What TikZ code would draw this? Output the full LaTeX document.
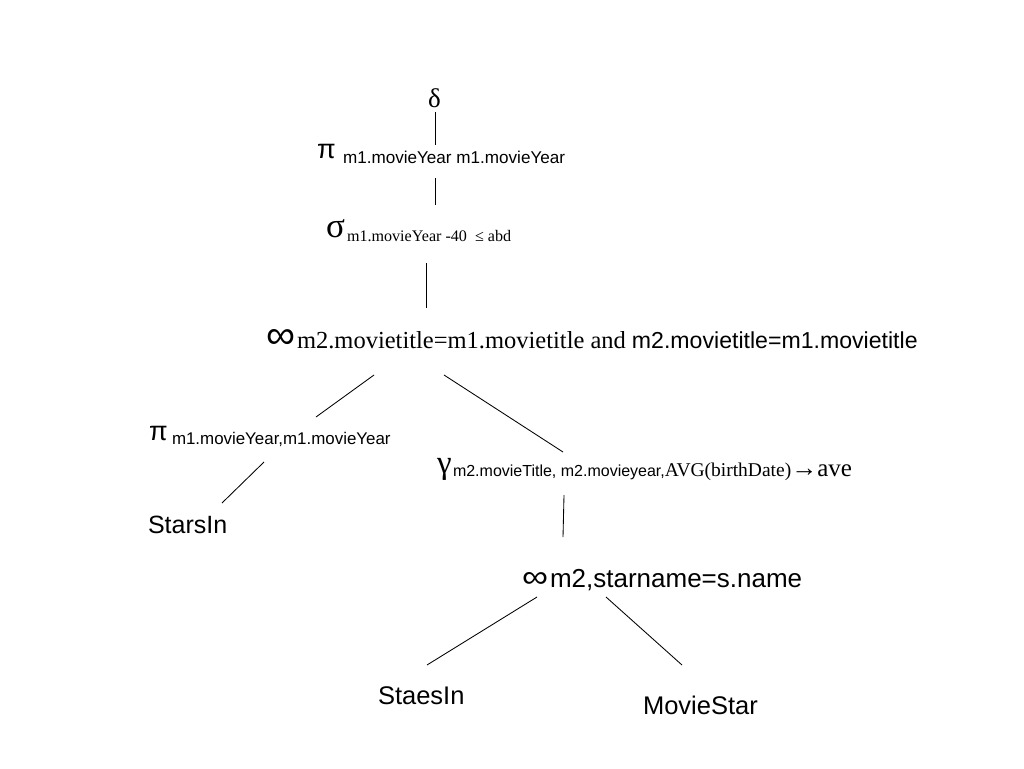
\documentclass[tikz,border=0pt]{standalone}
\usepackage{fontspec}
\usepackage{graphicx}
\setmainfont{Liberation Serif}
\newfontfamily\arialf{Liberation Sans}
\newcommand\fsz[1]{\fontsize{#1}{#1}\selectfont}
\tikzset{
  lbl/.style={anchor=base west, inner sep=0pt, outer sep=0pt, text=black},
  edge/.style={draw=black, line width=0.85pt}
}
\begin{document}
\begin{tikzpicture}[x=1pt,y=-1pt]
\useasboundingbox[fill=white] (0,0) rectangle (1024,768);

% labels
\node[lbl] (delta) at (428,107) {\fsz{27}δ};
\node[lbl] (pitop) at (317,158) {\makebox[26pt][l]{\arialf\fsz{27}π}\raisebox{-5pt}{\arialf\fsz{17.1}m1.movieYear m1.movieYear}};
\node[lbl] (sigma) at (326,237) {\makebox[21pt][l]{\fsz{35}σ}\raisebox{-4pt}{\fsz{16.1}m1.movieYear -40\ \ ≤ abd}};
\node[lbl] (jointop) at (266,348) {\makebox[31pt][l]{\resizebox{29pt}{19pt}{\arialf ∞}}{\fsz{24.5}m2.movietitle=m1.movietitle and }{\arialf\fsz{23.1}m2.movietitle=m1.movietitle}};
\node[lbl] (pileft) at (149,440) {\makebox[23pt][l]{\arialf\fsz{27}π}\raisebox{-4pt}{\arialf\fsz{16.9}m1.movieYear,m1.movieYear}};
\node[lbl] (starsin) at (148,533) {\arialf\fsz{25}StarsIn};
\node[lbl] (gamma) at (437,476) {\makebox[16pt][l]{\raisebox{3pt}{\fsz{33}γ}}{\arialf\fsz{16}m2.movieTitle, m2.movieyear,}{\fsz{19.5}AVG(birthDate)}{\fsz{26}→}{\fsz{25}ave}};
\node[lbl] (joinlow) at (522,587) {\makebox[28pt][l]{\resizebox{26pt}{15pt}{\arialf ∞}}{\arialf\fsz{26}m2,starname=s.name}};
\node[lbl] (staesin) at (378,704) {\arialf\fsz{25.5}StaesIn};
\node[lbl] (moviestar) at (643,714) {\arialf\fsz{25.5}MovieStar};

% connector end points
\coordinate (e1a) at (435,112); \coordinate (e1b) at (435,145);
\coordinate (e2a) at (435,178); \coordinate (e2b) at (435,205);
\coordinate (e3a) at (426,263); \coordinate (e3b) at (426,308);
\coordinate (e4a) at (374,375); \coordinate (e4b) at (316,417);
\coordinate (e5a) at (444,375); \coordinate (e5b) at (563,452);
\coordinate (e6a) at (264,462); \coordinate (e6b) at (222,503);
\coordinate (e7a) at (564,495); \coordinate (e7b) at (563,537);
\coordinate (e8a) at (537,597); \coordinate (e8b) at (427,665);
\coordinate (e9a) at (606,597); \coordinate (e9b) at (682,665);

\draw[edge] (e1a) -- (e1b);
\draw[edge] (e2a) -- (e2b);
\draw[edge] (e3a) -- (e3b);
\draw[edge] (e4a) -- (e4b);
\draw[edge] (e5a) -- (e5b);
\draw[edge] (e6a) -- (e6b);
\draw[edge] (e7a) -- (e7b);
\draw[edge] (e8a) -- (e8b);
\draw[edge] (e9a) -- (e9b);
\end{tikzpicture}
\end{document}
